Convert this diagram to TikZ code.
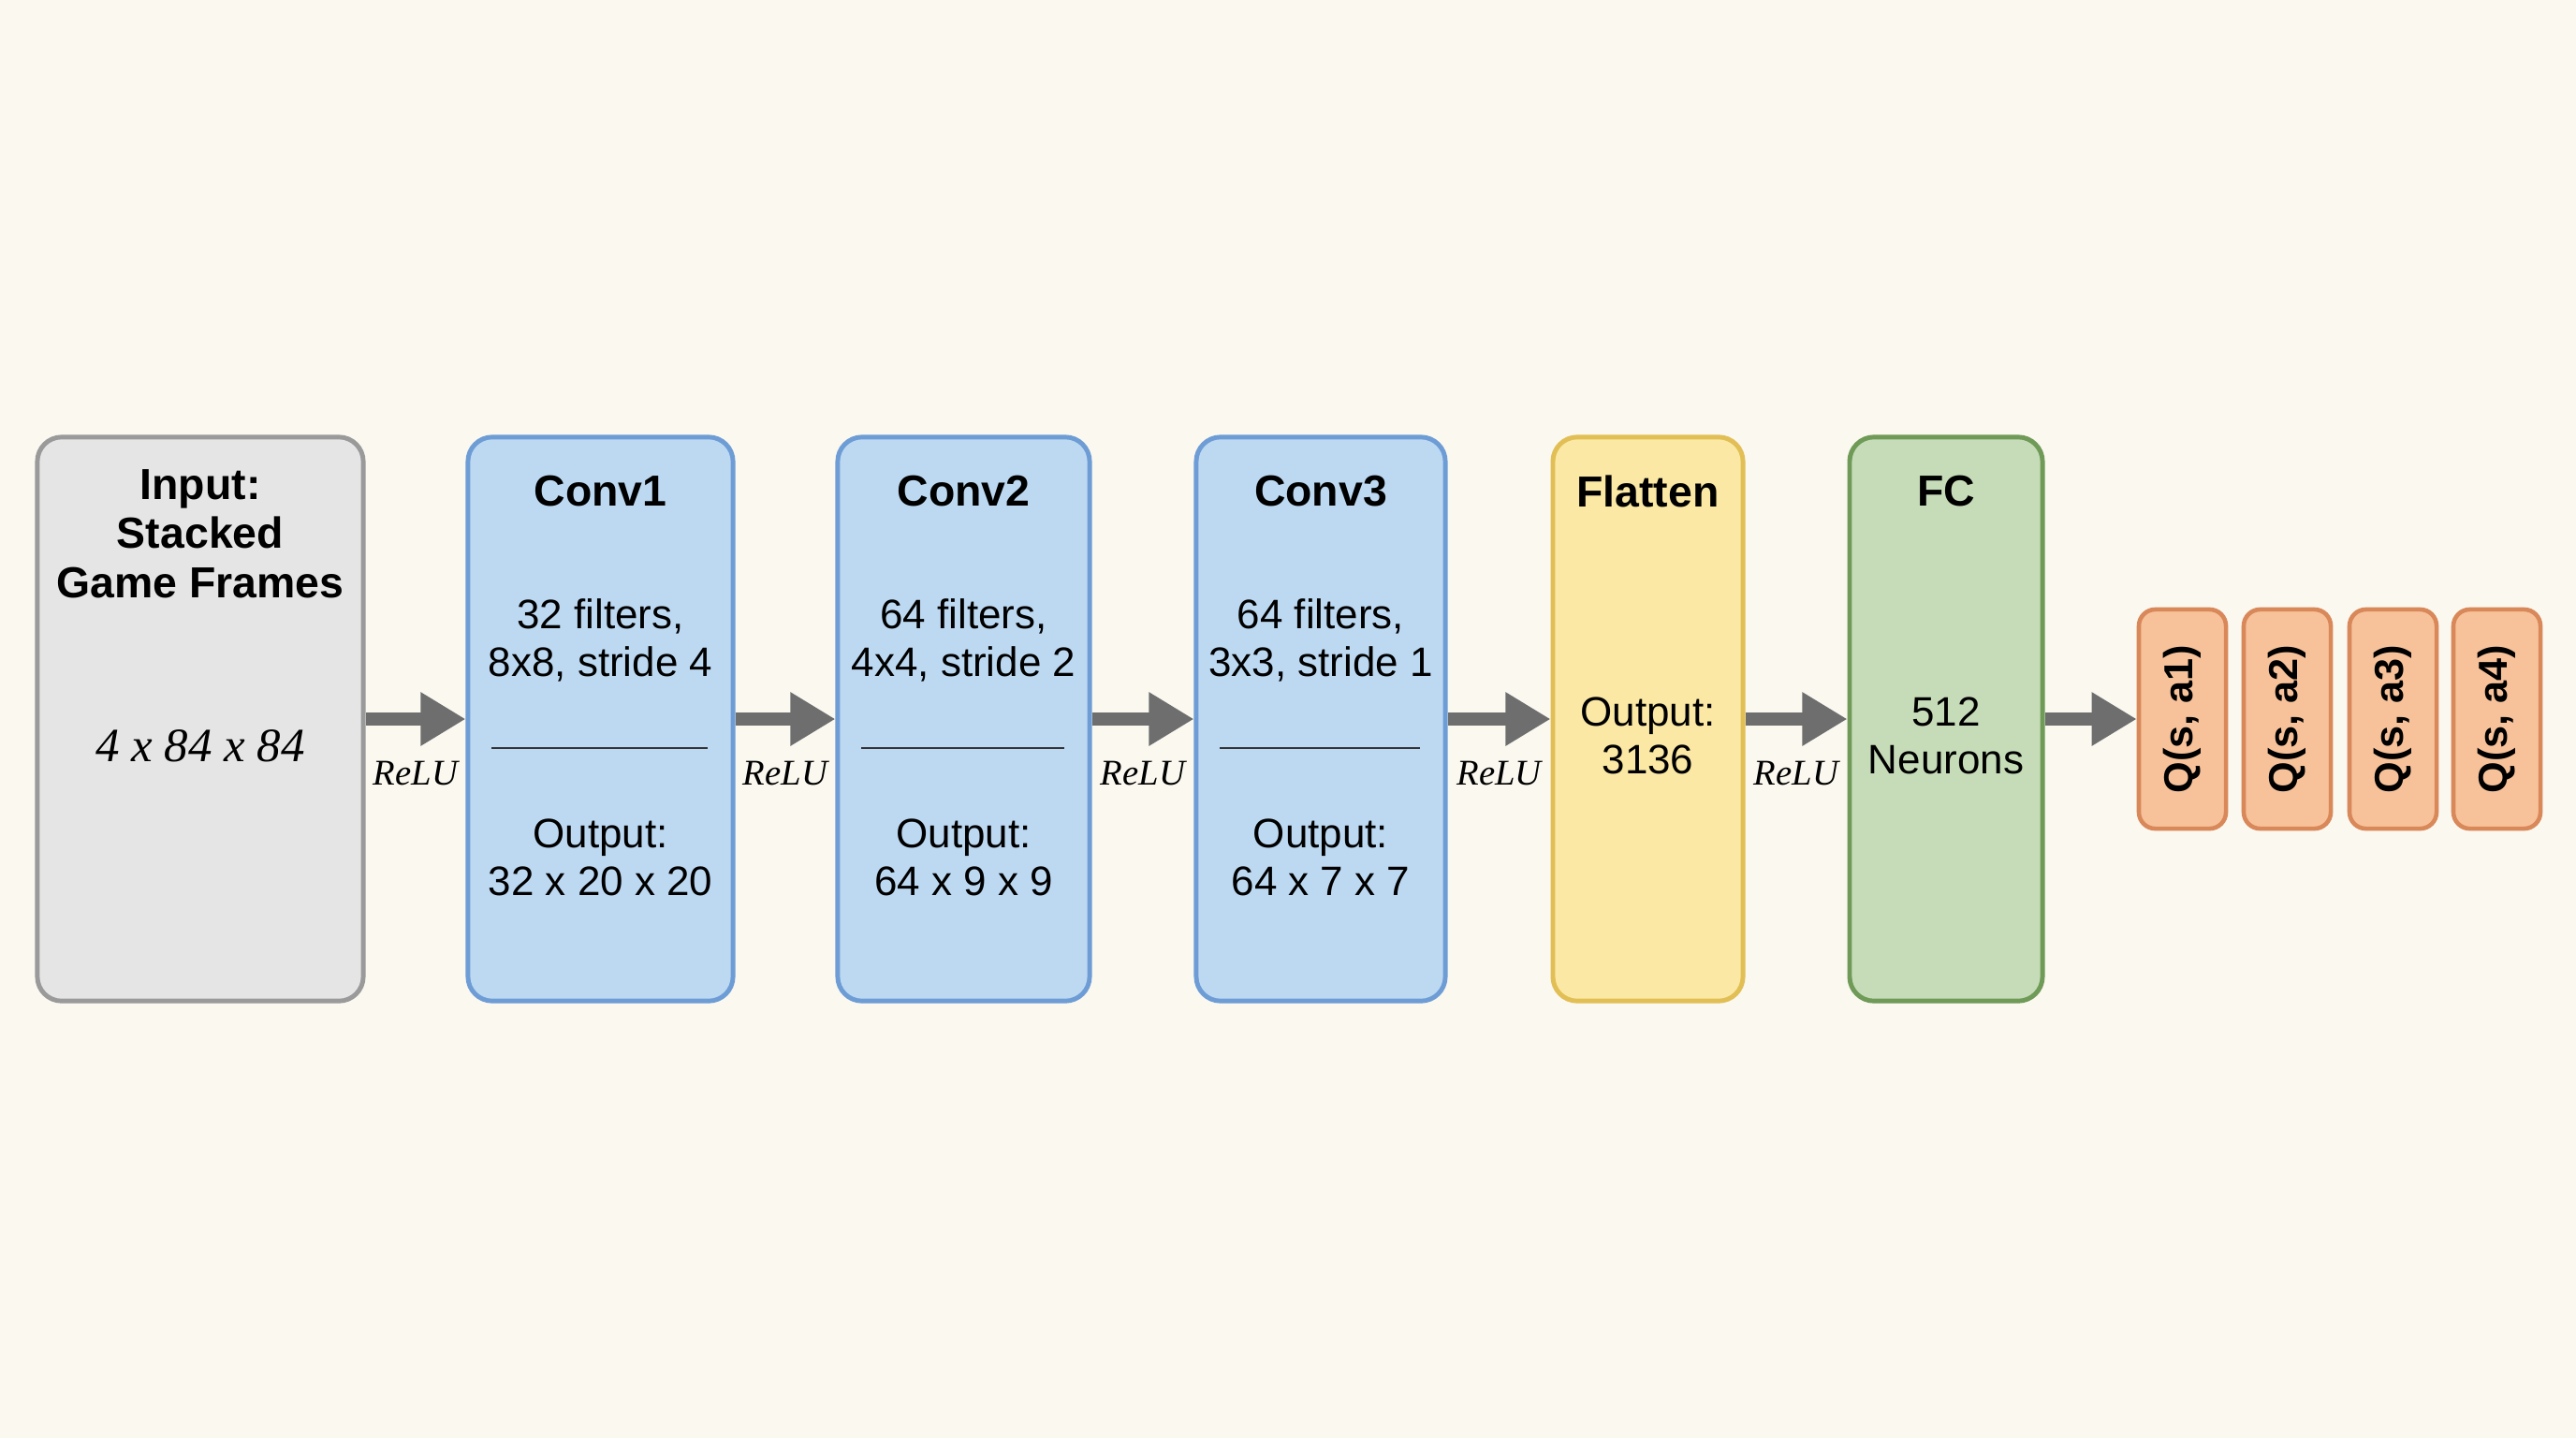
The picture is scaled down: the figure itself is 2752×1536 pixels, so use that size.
\documentclass[tikz,border=0pt]{standalone}
\usepackage{fontspec}
\setmainfont{Liberation Sans}
\newfontfamily\serifit{Liberation Serif}
\usetikzlibrary{arrows.meta,calc}
\definecolor{bgc}{HTML}{FAF8EF}
\definecolor{inpfill}{HTML}{E5E5E5}
\definecolor{inpdraw}{HTML}{9A9A9A}
\definecolor{convfill}{HTML}{BDD9F2}
\definecolor{convdraw}{HTML}{6E9DD6}
\definecolor{flatfill}{HTML}{FAE8A4}
\definecolor{flatdraw}{HTML}{E2BF55}
\definecolor{fcfill}{HTML}{C6DCB8}
\definecolor{fcdraw}{HTML}{6F9A57}
\definecolor{qfill}{HTML}{F7C29A}
\definecolor{qdraw}{HTML}{D9885A}
\definecolor{arrowc}{HTML}{6E6E6E}
\tikzset{
  layer/.style={rounded corners=7.4pt, line width=1.4pt, minimum height=6.02cm, inner sep=0pt},
  inpbox/.style={layer, fill=inpfill, draw=inpdraw},
  convbox/.style={layer, fill=convfill, draw=convdraw},
  flatbox/.style={layer, fill=flatfill, draw=flatdraw},
  fcbox/.style={layer, fill=fcfill, draw=fcdraw},
  qbox/.style={rounded corners=5pt, line width=1.3pt, fill=qfill, draw=qdraw, rotate=90,
    minimum width=2.34cm, minimum height=0.93cm, inner sep=0pt,
    font=\fontsize{12.3}{14}\selectfont\bfseries},
  ttl/.style={font=\fontsize{13.2}{14.9}\selectfont\bfseries, align=center, inner sep=0pt},
  body/.style={font=\fontsize{12.5}{14.5}\selectfont, align=center, inner sep=0pt},
  relu/.style={font=\serifit\itshape\fontsize{11}{13}\selectfont, inner sep=0pt},
  flow/.style={draw=arrowc, line width=4pt, -{Triangle[length=13.7pt, width=15.4pt]}},
  sepline/.style={draw=black!80, line width=0.7pt}
}
\begin{document}
\begin{tikzpicture}[x=0.01cm, y=-0.01cm]
\fill[bgc] (0,0) rectangle (2752,1536);
\useasboundingbox (0,0) rectangle (2752,1536);

% boxes
\node[inpbox, minimum width=3.48cm] (inp) at (214,768) {};
\node[convbox, minimum width=2.83cm] (c1) at (641.5,768) {};
\node[convbox, minimum width=2.69cm] (c2) at (1029.5,768) {};
\node[convbox, minimum width=2.66cm] (c3) at (1411,768) {};
\node[flatbox, minimum width=2.03cm] (fl) at (1760.5,768) {};
\node[fcbox, minimum width=2.06cm] (fc) at (2079,768) {};

\node[qbox] (q1) at (2331.5,768) {Q(s, a1)};
\node[qbox] (q2) at (2443.5,768) {Q(s, a2)};
\node[qbox] (q3) at (2556.5,768) {Q(s, a3)};
\node[qbox] (q4) at (2667.5,768) {Q(s, a4)};

% input text
\node[ttl] (inpt) at (214,570) {Input:\\Stacked\\Game Frames};
\node[font=\serifit\itshape\fontsize{14.5}{16}\selectfont, inner sep=0pt] (inpd) at (214,797) {4 x 84 x 84};

% conv texts
\node[ttl] (c1t) at (641.5,525) {Conv1};
\node[body] (c1a) at (641.5,683.5) {32 filters,\\8x8, stride 4};
\node[body] (c1b) at (641.5,916) {Output:\\32 x 20 x 20};
\node[ttl] (c2t) at (1029.5,525) {Conv2};
\node[body] (c2a) at (1029.5,683.5) {64 filters,\\4x4, stride 2};
\node[body] (c2b) at (1029.5,916) {Output:\\64 x 9 x 9};
\node[ttl] (c3t) at (1411,525) {Conv3};
\node[body] (c3a) at (1411,683.5) {64 filters,\\3x3, stride 1};
\node[body] (c3b) at (1411,916) {Output:\\64 x 7 x 7};

\node[ttl] (flt) at (1760.5,525) {Flatten};
\node[body] (fla) at (1760.5,786) {Output:\\3136};
\node[ttl] (fct) at (2079,525) {FC};
\node[body] (fca) at (2079,786) {512\\Neurons};

% separators
\coordinate (s) at (0,799);
\foreach \b in {c1,c2,c3}{
  \draw[sepline] ($(\b.west |- s)+(28,0)$) -- ($(\b.east |- s)+(-30,0)$);
}

% arrows
\draw[flow] (inp.east) -- (c1.west) node[midway, relu, yshift=-0.58cm] (r1) {ReLU};
\draw[flow] (c1.east) -- (c2.west) node[midway, relu, yshift=-0.58cm] (r2) {ReLU};
\draw[flow] (c2.east) -- (c3.west) node[midway, relu, yshift=-0.58cm] (r3) {ReLU};
\draw[flow] (c3.east) -- (fl.west) node[midway, relu, yshift=-0.58cm] (r4) {ReLU};
\draw[flow] (fl.east) -- (fc.west) node[midway, relu, yshift=-0.58cm] (r5) {ReLU};
\draw[flow] (fc.east) -- (q1.north);
\end{tikzpicture}
\end{document}
